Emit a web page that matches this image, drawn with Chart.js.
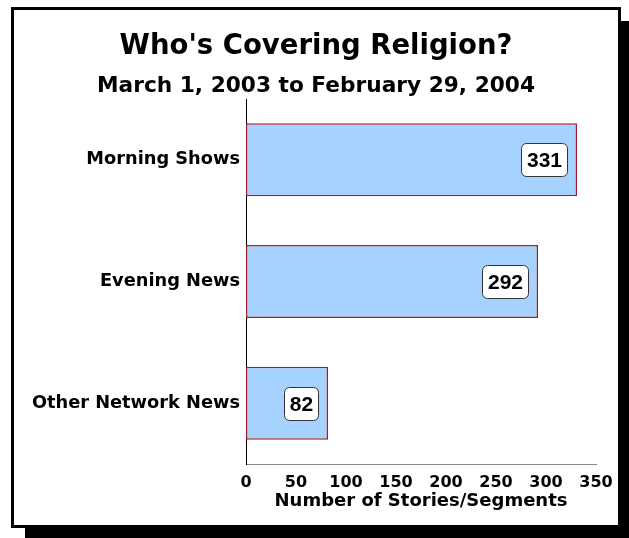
<!DOCTYPE html>
<html>
<head>
<meta charset="utf-8">
<script src="https://cdn.jsdelivr.net/npm/chart.js@4/dist/chart.umd.min.js"></script>
<style>
  html, body { margin:0; padding:0; background:#fff; }
  #wrap { position:relative; width:629px; height:538px; overflow:hidden; }
  #frame {
    position:absolute; left:11px; top:7px; width:604px; height:515px;
    border:3px solid #000; background:#fff;
    box-shadow: 14px 14px 0 #000;
  }
  #c { position:absolute; left:0; top:0; }
</style>
</head>
<body>
<div id="wrap">
  <div id="frame"></div>
  <canvas id="c" width="629" height="538"></canvas>
</div>
<script>
const categories = ["Morning Shows", "Evening News", "Other Network News"];
const stories = [331, 292, 82];
const xTicks = [0, 50, 100, 150, 200, 250, 300, 350];

const FONT = "'DejaVu Sans', Verdana, sans-serif";

// rounded white boxes with the value, near the bar end
const valueBoxes = {
  id: "valueBoxes",
  afterDatasetsDraw(chart){
    const {ctx} = chart;
    const meta = chart.getDatasetMeta(0);
    ctx.save();
    ctx.font = "bold 21px 'Liberation Sans', Arial, sans-serif";
    ctx.textAlign = "center";
    ctx.textBaseline = "middle";
    meta.data.forEach((bar, i) => {
      const txt = String(stories[i]);
      const w = Math.round(ctx.measureText(txt).width + 11);
      const h = 33;
      const right = Math.round(bar.x - 10);
      const x0 = right - w, y0 = Math.round(bar.y - h/2);
      ctx.beginPath();
      ctx.roundRect(x0 + 0.5, y0 + 0.5, w, h, 5);
      ctx.fillStyle = "#fff";
      ctx.fill();
      ctx.strokeStyle = "#333";
      ctx.lineWidth = 1;
      ctx.stroke();
      ctx.fillStyle = "#000";
      ctx.fillText(txt, x0 + w/2 + 0.5, y0 + h/2 + 1.5);
    });
    ctx.restore();
  }
};

// center the title lines on the framed box, not on the padded layout
const centerTitles = {
  id: "centerTitles",
  afterLayout(chart){
    chart.boxes.forEach(b => {
      if (b.options && typeof b.options.text === "string" && b.position === "top") {
        b.left = 36; b.right = 596; b.width = 560;
      }
    });
  }
};

new Chart(document.getElementById("c"), {
  type: "bar",
  data: {
    labels: categories,
    datasets: [{
      data: stories,
      backgroundColor: "#A6D2FF",
      borderColor: "#A01E24",
      borderWidth: 1.5,
      borderSkipped: false,
      barPercentage: 0.6,
      categoryPercentage: 1
    }]
  },
  options: {
    indexAxis: "y",
    responsive: false,
    animation: false,
    layout: { padding: { left: 0, right: 33, top: 0, bottom: 0 } },
    plugins: {
      legend: { display: false },
      tooltip: { enabled: false },
      title: {
        display: true,
        text: "Who's Covering Religion?",
        color: "#000",
        font: { family: FONT, size: 27.5, weight: "bold" },
        padding: { top: 30, bottom: 3 }
      },
      subtitle: {
        display: true,
        text: "March 1, 2003 to February 29, 2004",
        color: "#000",
        font: { family: FONT, size: 21.7, weight: "bold" },
        padding: { top: 7, bottom: 0 }
      }
    },
    scales: {
      x: {
        min: 0, max: 350,
        afterBuildTicks: (s) => { s.ticks = xTicks.map(v => ({ value: v })); },
        grid: { display: false, drawTicks: false },
        border: { color: "#888", width: 1 },
        ticks: { color: "#000", padding: 9, font: { family: FONT, size: 16, weight: "bold" } },
        title: {
          display: true,
          text: "Number of Stories/Segments",
          color: "#000",
          font: { family: FONT, size: 18, weight: "bold" },
          padding: { top: 0, bottom: 26 }
        },
        afterFit: (s) => { s.height = 74; }
      },
      y: {
        grid: { display: false, drawTicks: false },
        border: { color: "#000", width: 1 },
        ticks: { color: "#000", padding: 6, font: { family: FONT, size: 17.8, weight: "bold" } },
        afterFit: (s) => { s.width = 246; }
      }
    }
  },
  plugins: [valueBoxes, centerTitles]
});
</script>
</body>
</html>
